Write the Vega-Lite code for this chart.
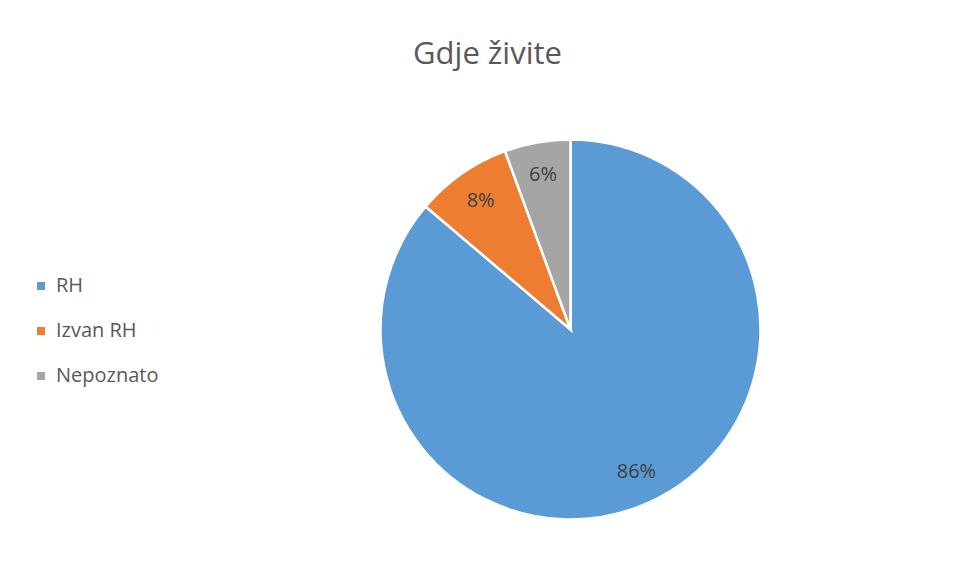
{
  "$schema": "https://vega.github.io/schema/vega-lite/v6.json",
  "width": 771,
  "height": 499,
  "padding": {"left": 185, "top": 80, "right": 0, "bottom": 0},
  "autosize": {"type": "none"},
  "background": "white",
  "title": {
    "text": "Gdje živite",
    "anchor": "middle",
    "frame": "group",
    "dx": -83,
    "offset": 9,
    "font": "Open Sans",
    "fontSize": 31,
    "fontWeight": "normal",
    "color": "#595959"
  },
  "config": {"view": {"stroke": null}},
  "data": {
    "values": [
      {"kategorija": "RH", "udio": 0.862, "redoslijed": 1},
      {"kategorija": "Izvan RH", "udio": 0.082, "redoslijed": 2},
      {"kategorija": "Nepoznato", "udio": 0.056, "redoslijed": 3}
    ]
  },
  "encoding": {
    "theta": {"field": "udio", "type": "quantitative", "stack": true},
    "order": {"field": "redoslijed", "type": "quantitative"},
    "color": {
      "field": "kategorija",
      "type": "nominal",
      "sort": ["RH", "Izvan RH", "Nepoznato"],
      "scale": {"domain": ["RH", "Izvan RH", "Nepoznato"], "range": ["#5B9BD5", "#ED7D31", "#A5A5A5"]},
      "legend": {
        "title": null,
        "orient": "none",
        "legendX": -154,
        "legendY": 196,
        "symbolType": "square",
        "symbolSize": 64,
        "symbolStrokeWidth": 0,
        "labelFont": "Open Sans",
        "labelFontSize": 20,
        "labelColor": "#595959",
        "labelOffset": 5,
        "rowPadding": 25
      }
    }
  },
  "layer": [
    {"mark": {"type": "arc", "outerRadius": 190, "stroke": "white", "strokeWidth": 2.5}},
    {
      "mark": {"type": "text", "radius": 157, "font": "Open Sans", "fontSize": 20},
      "encoding": {
        "text": {"field": "udio", "type": "quantitative", "format": ".0%"},
        "color": {"value": "#404040"}
      }
    }
  ]
}
